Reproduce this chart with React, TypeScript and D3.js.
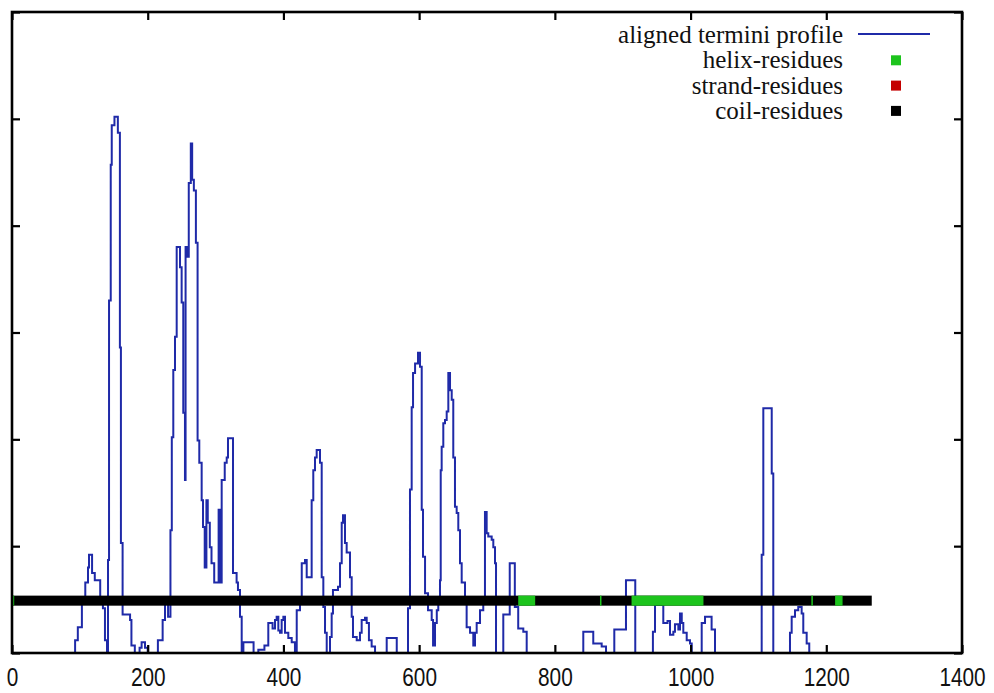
import React, { useRef, useEffect } from 'react';
import * as d3 from 'd3';

// termini profile: residue where the step starts and the value it steps to
const profilePos = [
  85, 93, 97, 103, 108, 112, 113.5, 118, 122, 130, 134, 137, 140, 141.5, 143, 145.5, 147, 151, 156, 159,
  160.5, 163, 174, 176, 181, 188, 191, 196, 200, 215, 222, 225.5, 230, 233.5, 235.5, 237.7, 240.2, 242.7, 247.6, 250,
  252.4, 254.9, 255.8, 258.5, 260.5, 263.5, 265.5, 268, 271, 273.5, 276, 279.5, 281.5, 284, 286.5, 288.5, 291.5, 294, 298, 304.5,
  306.5, 309, 313.5, 316.4, 318.3, 325.7, 331, 333, 336, 338.5, 341, 356, 363, 372, 377.7, 384, 387.6, 390, 392.5, 395,
  397.4, 399.9, 402.3, 407.2, 412.2, 417, 419.6, 424.4, 427, 431.8, 434.3, 441.6, 444, 446.5, 449, 453.9, 456.4, 458.8, 461.3, 463.8,
  468.6, 471.1, 473, 480.4, 483.4, 485.9, 487.8, 490.7, 493.2, 498.1, 500.6, 502.5, 508, 512.8, 515.3, 520.2, 522.7, 526, 530, 535,
  552.2, 567, 583.6, 586.5, 589, 591, 594, 598.3, 601.3, 603.8, 605.7, 608.7, 613.1, 618.5, 620.5, 623.4, 626, 628.2, 630.7, 631.8,
  633.2, 635.6, 638.1, 640.6, 643, 645.5, 648, 650.3, 652.8, 655.3, 657.7, 660.2, 662.7, 667.6, 670, 675, 679.8, 682.3, 684.8, 689.7,
  694.5, 697, 699.5, 701.9, 706.9, 709.3, 711.8, 713.3, 724, 733.5, 741, 746, 753.5, 758.5, 841.9, 856.6, 869, 875.4, 887.6, 904.8,
  918.5, 944.5, 947.6, 959.8, 966, 969.7, 974.6, 977, 982, 984.4, 987, 989.3, 994.3, 999.2, 1001.7, 1016.4, 1021.3, 1031, 1036, 1104.8,
  1107.2, 1119.6, 1121.9, 1146.5, 1149, 1153.9, 1158.7, 1163.7, 1166.1, 1171.1, 1174.9
];
const profileVal = [
  0, 0.12, 0.24, 0.47, 0.66, 0.8, 0.92, 0.75, 0.68, 0.52, 0.42, 0.12, 0, 0.87, 3.3, 4.57, 4.94, 5.02, 4.87, 2.86,
  1.03, 0.36, 0.31, 0.07, 0, 0.05, 0.1, 0.05, 0, 0.12, 0.31, 0.52, 0.34, 1.15, 2.02, 2.65, 2.96, 3.8, 3.61, 3.28,
  2.25, 1.62, 3.8, 3.71, 4.4, 4.77, 4.43, 4.33, 3.84, 1.99, 1.78, 1.43, 1.18, 0.8, 1.43, 1.22, 0.99, 0.84, 0.66, 1.34,
  0.66, 1.62, 1.78, 1.83, 2.01, 0.75, 0.66, 0.59, 0.34, 0, 0.1, 0, 0.03, 0.07, 0.28, 0.23, 0.31, 0.34, 0.21, 0.19,
  0.31, 0.34, 0.19, 0.14, 0.1, 0, 0.4, 0.52, 0.84, 0.87, 0.71, 1.43, 1.71, 1.83, 1.9, 1.78, 0.71, 0.43, 0.19, 0,
  0.15, 0.37, 0.59, 0.62, 0.84, 1.22, 1.29, 1.03, 0.94, 0.71, 0.34, 0.15, 0.12, 0.19, 0.31, 0.33, 0.28, 0.12, 0.06, 0,
  0.14, 0, 0.42, 1.53, 2.3, 2.62, 2.71, 2.81, 2.68, 1.34, 0.9, 0.56, 0.4, 0.31, 0.07, 0.28, 0.4, 0.52, 0.68, 1.71,
  1.93, 2.15, 2.18, 2.26, 2.62, 2.46, 2.37, 1.83, 1.37, 1.31, 1.15, 0.84, 0.66, 0.47, 0.24, 0.19, 0.07, 0.19, 0.28, 0.4,
  0.52, 1.32, 1.12, 1.09, 1.06, 0.99, 0.84, 0, 0.36, 0.84, 0.43, 0.23, 0.2, 0, 0.2, 0.09, 0.06, 0, 0.22, 0.68,
  0, 0.2, 0.45, 0.28, 0.3, 0.17, 0.2, 0.27, 0.22, 0.37, 0.28, 0.19, 0.12, 0.09, 0, 0.28, 0.34, 0.22, 0, 0.92,
  2.29, 1.68, 0, 0.19, 0.34, 0.4, 0.43, 0.37, 0.19, 0.09, 0
];

// secondary structure along the chain (everything else is coil)
const chainLength = 1267;
const helixStart = [1, 746, 866.5, 913, 1178, 1213];
const helixEnd = [3, 771, 868.5, 1019, 1180, 1224];

const xTicks = [0, 200, 400, 600, 800, 1000, 1200, 1400];
const yTicks = [0, 1, 2, 3, 4, 5, 6];

const legendLabels = ['aligned termini profile', 'helix-residues', 'strand-residues', 'coil-residues'];
const legendColors = ['#1f2aa8', '#1dc41d', '#c40000', '#000000'];

const structLevel = 0.49;
const structHalf = 0.047;

export default function App() {
  const svgRef = useRef<SVGSVGElement>(null);

  useEffect(() => {
    const width = 994, height = 693;
    const margin = { top: 12, right: 32, bottom: 40, left: 12 };

    const svg = d3.select(svgRef.current);
    svg.selectAll('*').remove();

    const x = d3.scaleLinear().domain([0, 1400]).range([margin.left, width - margin.right]);
    const y = d3.scaleLinear().domain([0, 6]).range([height - margin.bottom, margin.top]);

    // profile line
    const pts: [number, number][] = profilePos.map((p, i) => [p, profileVal[i]]);
    const line = d3.line<[number, number]>()
      .x(d => x(d[0]))
      .y(d => y(d[1]))
      .curve(d3.curveStepAfter);

    svg.append('path')
      .datum(pts)
      .attr('d', line)
      .attr('fill', 'none')
      .attr('stroke', legendColors[0])
      .attr('stroke-width', 2)
      .attr('stroke-linejoin', 'miter');

    // structure bar: coil then helix segments on top
    const barTop = y(structLevel + structHalf);
    const barH = y(structLevel - structHalf) - barTop;
    svg.append('rect')
      .attr('x', x(0))
      .attr('y', barTop)
      .attr('width', x(chainLength) - x(0))
      .attr('height', barH)
      .attr('fill', legendColors[3]);

    svg.selectAll('rect.helix')
      .data(helixStart.map((s, i) => [s, helixEnd[i]]))
      .enter().append('rect')
      .attr('class', 'helix')
      .attr('x', d => x(d[0]))
      .attr('y', barTop)
      .attr('width', d => Math.max(1.5, x(d[1]) - x(d[0])))
      .attr('height', barH)
      .attr('fill', legendColors[1]);

    // axes, ticks pointing inward
    const bottom = svg.append('g')
      .attr('transform', `translate(0,${y(0)})`)
      .call(d3.axisBottom(x).tickValues(xTicks).tickSize(-8).tickPadding(15).tickFormat(d3.format('d')));
    bottom.selectAll('text')
      .attr('font-family', '"Liberation Sans", Arial, sans-serif')
      .attr('font-size', 26)
      .attr('fill', '#111')
      .attr('transform', 'scale(0.8,1)');

    svg.append('g')
      .attr('transform', `translate(0,${y(6)})`)
      .call(d3.axisTop(x).tickValues(xTicks).tickSize(-8).tickFormat(() => ''));
    svg.append('g')
      .attr('transform', `translate(${x(0)},0)`)
      .call(d3.axisLeft(y).tickValues(yTicks).tickSize(-8).tickFormat(() => ''));
    svg.append('g')
      .attr('transform', `translate(${x(1400)},0)`)
      .call(d3.axisRight(y).tickValues(yTicks).tickSize(-8).tickFormat(() => ''));

    svg.selectAll('.domain').remove();
    svg.selectAll('.tick line').attr('stroke', '#000').attr('stroke-width', 2.2);

    svg.append('rect')
      .attr('x', x(0))
      .attr('y', y(6))
      .attr('width', x(1400) - x(0))
      .attr('height', y(0) - y(6))
      .attr('fill', 'none')
      .attr('stroke', '#000')
      .attr('stroke-width', 2.6);

    // legend
    const legend = svg.append('g').attr('transform', 'translate(843,43)');
    legendLabels.forEach((label, i) => {
      const row = legend.append('g').attr('transform', `translate(0,${i * 25.3})`);
      row.append('text')
        .attr('text-anchor', 'end')
        .attr('font-family', '"Liberation Serif", "Times New Roman", serif')
        .attr('font-size', 25)
        .attr('fill', '#111')
        .text(label);
      if (i === 0) {
        row.append('line')
          .attr('x1', 15).attr('x2', 87)
          .attr('y1', -9).attr('y2', -9)
          .attr('stroke', legendColors[0])
          .attr('stroke-width', 2);
      } else {
        row.append('rect')
          .attr('x', 48).attr('y', -13)
          .attr('width', 10).attr('height', 10)
          .attr('fill', legendColors[i]);
      }
    });
  }, []);

  return (
    <svg ref={svgRef} width={994} height={693}
      style={{ position: 'absolute', left: 0, top: 0, background: '#fff' }} />
  );
}
